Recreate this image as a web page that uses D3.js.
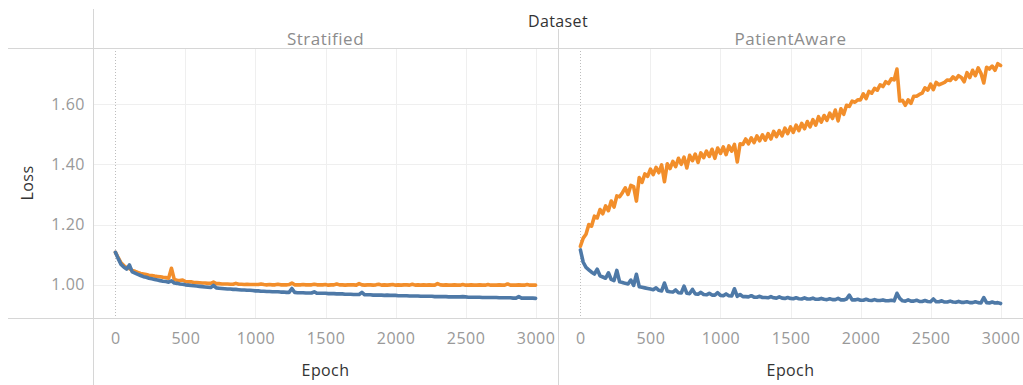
<!DOCTYPE html>
<html>
<head>
<meta charset="utf-8">
<script src="https://cdn.jsdelivr.net/npm/d3@7"></script>
<style>
  html, body { margin: 0; padding: 0; background: #fff; }
  svg { display: block; font-family: "Open Sans", "Noto Sans", sans-serif; }
</style>
</head>
<body>
<svg id="chart" width="1023" height="385"></svg>
<script>
// Loss per epoch, sampled every 20 epochs (0 … 3000)
const epochStep = 20;
const panels = ["Stratified", "PatientAware"];
const xTicks = [0, 500, 1000, 1500, 2000, 2500, 3000];
const yTicks = [1.0, 1.2, 1.4, 1.6];

const stratTrain = [
  1.108, 1.087, 1.068, 1.059, 1.052, 1.066, 1.043, 1.039, 1.035, 1.031,
  1.027, 1.025, 1.022, 1.020, 1.018, 1.016, 1.014, 1.012, 1.011, 1.009,
  1.013, 1.006, 1.005, 1.003, 1.002, 1.000, 0.999, 0.998, 0.997, 0.996,
  0.995, 0.994, 0.993, 0.992, 0.991, 0.998, 0.990, 0.989, 0.988, 0.987,
  0.986, 0.986, 0.985, 0.985, 0.984, 0.983, 0.983, 0.982, 0.982, 0.981,
  0.980, 0.980, 0.979, 0.979, 0.978, 0.978, 0.977, 0.977, 0.977, 0.976,
  0.976, 0.975, 0.975, 0.988, 0.975, 0.974, 0.974, 0.974, 0.973, 0.973,
  0.973, 0.977, 0.972, 0.972, 0.972, 0.972, 0.971, 0.971, 0.971, 0.970,
  0.970, 0.970, 0.969, 0.969, 0.969, 0.968, 0.968, 0.968, 0.975, 0.967,
  0.967, 0.967, 0.966, 0.966, 0.966, 0.966, 0.965, 0.966, 0.965, 0.965,
  0.965, 0.964, 0.964, 0.964, 0.964, 0.963, 0.963, 0.963, 0.963, 0.962,
  0.962, 0.962, 0.962, 0.962, 0.961, 0.961, 0.961, 0.961, 0.961, 0.960,
  0.960, 0.960, 0.960, 0.960, 0.961, 0.960, 0.959, 0.959, 0.959, 0.959,
  0.959, 0.958, 0.958, 0.958, 0.958, 0.958, 0.958, 0.957, 0.957, 0.957,
  0.957, 0.957, 0.956, 0.956, 0.961, 0.956, 0.956, 0.956, 0.956, 0.956,
  0.955
];

const stratVal = [
  1.108, 1.090, 1.073, 1.064, 1.057, 1.054, 1.048, 1.045, 1.041, 1.038,
  1.036, 1.034, 1.032, 1.031, 1.029, 1.028, 1.027, 1.025, 1.024, 1.022,
  1.055, 1.018, 1.015, 1.014, 1.016, 1.011, 1.010, 1.010, 1.008, 1.008,
  1.007, 1.006, 1.006, 1.005, 1.005, 1.009, 1.004, 1.004, 1.003, 1.003,
  1.003, 1.002, 1.002, 1.005, 1.002, 1.002, 1.001, 1.002, 1.001, 1.001,
  1.001, 1.001, 1.003, 1.001, 1.000, 1.001, 1.000, 1.000, 1.002, 1.000,
  1.000, 1.000, 1.001, 1.006, 1.000, 1.000, 1.000, 1.001, 1.000, 1.000,
  1.000, 1.002, 1.000, 1.000, 1.000, 1.001, 0.999, 1.000, 1.000, 1.003,
  1.000, 1.000, 0.999, 1.000, 1.000, 1.000, 0.999, 1.004, 1.000, 0.999,
  1.000, 1.000, 0.999, 1.000, 1.002, 0.999, 1.000, 0.999, 1.000, 1.001,
  0.999, 1.000, 0.999, 1.000, 1.000, 0.999, 1.002, 0.999, 1.000, 0.999,
  1.000, 0.999, 1.000, 0.999, 0.999, 1.004, 1.000, 0.999, 1.000, 0.999,
  0.999, 1.000, 0.999, 0.999, 1.001, 0.999, 0.999, 1.000, 0.999, 0.999,
  1.000, 0.999, 0.999, 1.001, 0.999, 0.999, 0.999, 1.000, 0.999, 0.999,
  1.003, 0.999, 0.999, 0.999, 1.000, 0.999, 0.999, 1.001, 0.999, 0.999,
  0.999
];

const paTrain = [
  1.116, 1.075, 1.058, 1.050, 1.042, 1.036, 1.052, 1.030, 1.026, 1.022,
  1.040, 1.018, 1.014, 1.048, 1.010, 1.008, 1.005, 1.003, 1.016, 0.998,
  1.035, 0.994, 0.992, 0.990, 0.988, 0.986, 0.984, 0.990, 0.982, 0.980,
  1.006, 0.979, 0.977, 0.976, 0.983, 0.974, 0.973, 0.996, 0.972, 0.971,
  0.985, 0.970, 0.969, 0.975, 0.968, 0.967, 0.972, 0.966, 0.966, 0.974,
  0.965, 0.964, 0.970, 0.964, 0.963, 0.987, 0.962, 0.968, 0.961, 0.961,
  0.960, 0.964, 0.959, 0.959, 0.962, 0.958, 0.958, 0.957, 0.961, 0.957,
  0.956, 0.960, 0.956, 0.955, 0.958, 0.955, 0.954, 0.957, 0.954, 0.953,
  0.957, 0.953, 0.953, 0.956, 0.952, 0.952, 0.955, 0.952, 0.951, 0.954,
  0.951, 0.951, 0.955, 0.950, 0.950, 0.953, 0.966, 0.950, 0.950, 0.952,
  0.949, 0.949, 0.952, 0.949, 0.948, 0.951, 0.948, 0.948, 0.950, 0.947,
  0.947, 0.949, 0.947, 0.972, 0.955, 0.947, 0.946, 0.950, 0.946, 0.946,
  0.949, 0.945, 0.945, 0.948, 0.945, 0.944, 0.953, 0.944, 0.944, 0.947,
  0.943, 0.943, 0.946, 0.943, 0.942, 0.945, 0.942, 0.942, 0.944, 0.941,
  0.941, 0.944, 0.941, 0.940, 0.958, 0.941, 0.940, 0.943, 0.940, 0.941,
  0.938
];

const paVal = [
  1.128, 1.155, 1.168, 1.200, 1.195, 1.228, 1.222, 1.250, 1.236, 1.262,
  1.246, 1.278, 1.258, 1.295, 1.292, 1.306, 1.322, 1.300, 1.330, 1.326,
  1.278, 1.356, 1.340, 1.368, 1.360, 1.384, 1.366, 1.390, 1.372, 1.398,
  1.342, 1.402, 1.386, 1.410, 1.392, 1.420, 1.400, 1.424, 1.388, 1.430,
  1.412, 1.434, 1.406, 1.438, 1.422, 1.444, 1.426, 1.450, 1.420, 1.454,
  1.436, 1.458, 1.432, 1.461, 1.444, 1.466, 1.408, 1.468, 1.466, 1.484,
  1.468, 1.488, 1.472, 1.494, 1.478, 1.498, 1.480, 1.502, 1.484, 1.509,
  1.492, 1.512, 1.494, 1.520, 1.502, 1.524, 1.506, 1.530, 1.512, 1.536,
  1.518, 1.542, 1.524, 1.548, 1.530, 1.558, 1.540, 1.562, 1.546, 1.570,
  1.552, 1.580, 1.544, 1.584, 1.566, 1.596, 1.592, 1.610, 1.606, 1.614,
  1.614, 1.634, 1.618, 1.642, 1.636, 1.652, 1.646, 1.664, 1.658, 1.674,
  1.668, 1.684, 1.680, 1.716, 1.610, 1.612, 1.596, 1.614, 1.602, 1.626,
  1.626, 1.632, 1.636, 1.654, 1.646, 1.666, 1.648, 1.672, 1.664, 1.668,
  1.672, 1.680, 1.678, 1.690, 1.682, 1.694, 1.688, 1.674, 1.704, 1.688,
  1.712, 1.694, 1.720, 1.702, 1.670, 1.722, 1.716, 1.726, 1.712, 1.734,
  1.728
];

const seriesColors = { train: "#4e79a7", val: "#f28e2b" };

const svg = d3.select("#chart");
const W = 1023, H = 385;
const plotLeft = 93, plotTop = 48, plotBottom = 318;
const panelW = 465;

const y = d3.scaleLinear().domain([0.89, 1.786]).range([plotBottom, plotTop]);
const xScales = panels.map((p, i) =>
  d3.scaleLinear().domain([-160, 3160]).range([plotLeft + i * panelW, plotLeft + (i + 1) * panelW]));

const gridColor = "#efefef";
const ruleColor = "#d6d6d6";

// horizontal grid
svg.append("g").selectAll("line").data(yTicks).join("line")
  .attr("x1", plotLeft).attr("x2", W)
  .attr("y1", d => Math.round(y(d)) + 0.5).attr("y2", d => Math.round(y(d)) + 0.5)
  .attr("stroke", gridColor).attr("stroke-width", 1);

// vertical grid + zero line, per panel
panels.forEach((p, i) => {
  const x = xScales[i];
  svg.append("g").selectAll("line").data(xTicks.filter(t => t > 0)).join("line")
    .attr("x1", d => Math.round(x(d)) + 0.5).attr("x2", d => Math.round(x(d)) + 0.5)
    .attr("y1", plotTop).attr("y2", plotBottom)
    .attr("stroke", gridColor).attr("stroke-width", 1);
  svg.append("line")
    .attr("x1", Math.round(x(0)) + 0.5).attr("x2", Math.round(x(0)) + 0.5)
    .attr("y1", plotTop).attr("y2", plotBottom)
    .attr("stroke", "#bdbdbd").attr("stroke-width", 1).attr("stroke-dasharray", "1,2");
});

// frame rules
svg.append("line").attr("x1", 8).attr("x2", W).attr("y1", plotTop + 0.5).attr("y2", plotTop + 0.5)
  .attr("stroke", ruleColor);
svg.append("line").attr("x1", 8).attr("x2", W).attr("y1", plotBottom + 0.5).attr("y2", plotBottom + 0.5)
  .attr("stroke", ruleColor);
svg.append("line").attr("x1", plotLeft + 0.5).attr("x2", plotLeft + 0.5).attr("y1", 9).attr("y2", H)
  .attr("stroke", ruleColor);
svg.append("line").attr("x1", plotLeft + panelW + 0.5).attr("x2", plotLeft + panelW + 0.5).attr("y1", 29).attr("y2", H)
  .attr("stroke", ruleColor);

// lines
const panelSeries = [
  { train: stratTrain, val: stratVal },
  { train: paTrain, val: paVal }
];

panels.forEach((p, i) => {
  const x = xScales[i];
  const line = d3.line()
    .x((d, j) => x(j * epochStep))
    .y(d => y(d))
    .curve(d3.curveLinear);
  const g = svg.append("g");
  ["val", "train"].forEach(key => {
    g.append("path")
      .datum(panelSeries[i][key])
      .attr("d", line)
      .attr("fill", "none")
      .attr("stroke", seriesColors[key])
      .attr("stroke-width", 3.6)
      .attr("stroke-linejoin", "round")
      .attr("stroke-linecap", "round");
  });

  // x axis
  const ax = svg.append("g")
    .attr("transform", `translate(0,${plotBottom})`)
    .call(d3.axisBottom(x).tickValues(xTicks).tickSize(0).tickPadding(15).tickFormat(d3.format("d")));
  ax.select(".domain").remove();
  ax.selectAll("text")
    .attr("fill", "#999").attr("font-size", 16).attr("letter-spacing", 0.5)
    .attr("font-family", "Open Sans");

  // x title
  svg.append("text")
    .attr("x", (x.range()[0] + x.range()[1]) / 2).attr("y", 376)
    .attr("text-anchor", "middle").attr("fill", "#333")
    .attr("font-size", 16).attr("letter-spacing", 0.4)
    .text("Epoch");

  // panel header
  svg.append("text")
    .attr("x", (x.range()[0] + x.range()[1]) / 2).attr("y", 45)
    .attr("text-anchor", "middle").attr("fill", "#8c8c8c")
    .attr("font-size", 17).attr("letter-spacing", 0.5)
    .text(p);
});

// y axis
const ay = svg.append("g")
  .attr("transform", `translate(${plotLeft},0)`)
  .call(d3.axisLeft(y).tickValues(yTicks).tickSize(0).tickPadding(8).tickFormat(d3.format(".2f")));
ay.select(".domain").remove();
ay.selectAll("text")
  .attr("fill", "#999").attr("font-size", 16).attr("letter-spacing", 0.5)
  .attr("font-family", "Open Sans");

// y title
svg.append("text")
  .attr("transform", `translate(33,${(plotTop + plotBottom) / 2}) rotate(-90)`)
  .attr("text-anchor", "middle").attr("fill", "#333")
  .attr("font-size", 16).attr("letter-spacing", 0.4)
  .text("Loss");

// column header title
svg.append("text")
  .attr("x", plotLeft + panelW).attr("y", 27)
  .attr("text-anchor", "middle").attr("fill", "#333")
  .attr("font-size", 16).attr("letter-spacing", 0.4)
  .text("Dataset");
</script>
</body>
</html>
